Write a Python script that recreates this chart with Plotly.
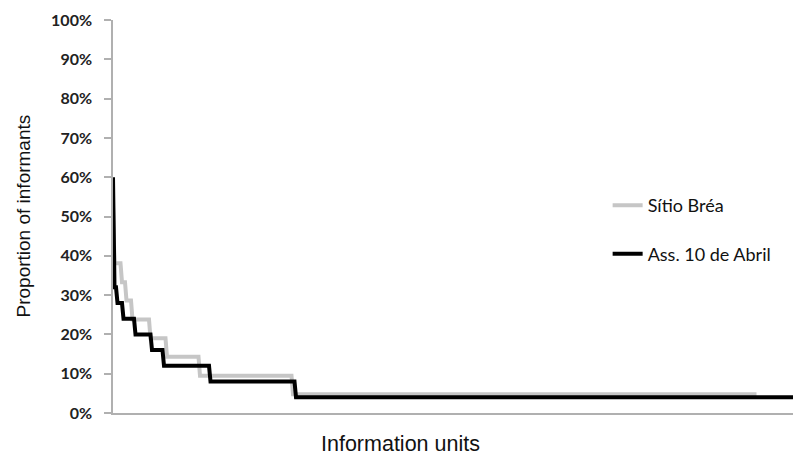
import numpy as np
import plotly.graph_objects as go

# proportion levels (fraction of informants) and how many information units sit at each level
brea_levels = [0.524, 0.381, 0.333, 0.286, 0.238, 0.190, 0.143, 0.095, 0.048]
brea_counts = [1, 5, 3, 4, 12, 11, 22, 62, 310]

abril_levels = [0.60, 0.32, 0.28, 0.24, 0.20, 0.16, 0.12, 0.08, 0.04]
abril_counts = [1, 2, 4, 8, 11, 8, 31, 57, 337]

y_ticks = [0, 0.1, 0.2, 0.3, 0.4, 0.5, 0.6, 0.7, 0.8, 0.9, 1.0]


def expand(levels, counts):
    vals = np.repeat(levels, counts)
    return list(range(len(vals))), vals


brea_x, brea_y = expand(brea_levels, brea_counts)
abril_x, abril_y = expand(abril_levels, abril_counts)

fig = go.Figure(data=[
    go.Scatter(x=brea_x, y=brea_y, mode='lines', name='Sítio Bréa',
               line=dict(color='#c6c6c6', width=4), legendgroup='a'),
    go.Scatter(x=abril_x, y=abril_y, mode='lines', name='Ass. 10 de Abril',
               line=dict(color='#000000', width=4), legendgroup='b'),
])

# page has an 8px body margin, so the figure is a bit smaller than the window
fig.update_layout(
    width=793, height=447,
    margin=dict(l=105, r=1, t=12, b=42),
    plot_bgcolor='white', paper_bgcolor='white',
    showlegend=True,
    legend=dict(x=0.72, y=0.575, xanchor='left', yanchor='top',
                bgcolor='rgba(0,0,0,0)', tracegroupgap=22,
                font=dict(family='Lato', size=18, color='#111')),
    xaxis=dict(range=[0, len(abril_x) - 1], showline=True, linecolor='#b0b0b0', linewidth=1.5,
               showgrid=False, zeroline=False, showticklabels=False, ticks=''),
    yaxis=dict(range=[0, 1], tickvals=y_ticks, tickformat='.0%', showline=True,
               linecolor='#b0b0b0', linewidth=1.5, ticks='outside', ticklen=7,
               tickcolor='#b0b0b0', tickwidth=1.5, showgrid=False, zeroline=False,
               ticklabelstandoff=9,
               tickfont=dict(family='Lato', size=16, color='#222', weight='bold')),
    annotations=[
        dict(text='Information units', xref='paper', yref='paper', x=0.418, y=-0.079,
             xanchor='center', yanchor='middle', showarrow=False,
             font=dict(family='Liberation Sans', size=21.5, color='#111')),
        dict(text='Proportion of informants', xref='paper', yref='paper', x=-0.131, y=0.5,
             xanchor='center', yanchor='middle', showarrow=False, textangle=-90,
             font=dict(family='Liberation Sans', size=19, color='#111')),
    ],
)

fig.write_html("out.html")
